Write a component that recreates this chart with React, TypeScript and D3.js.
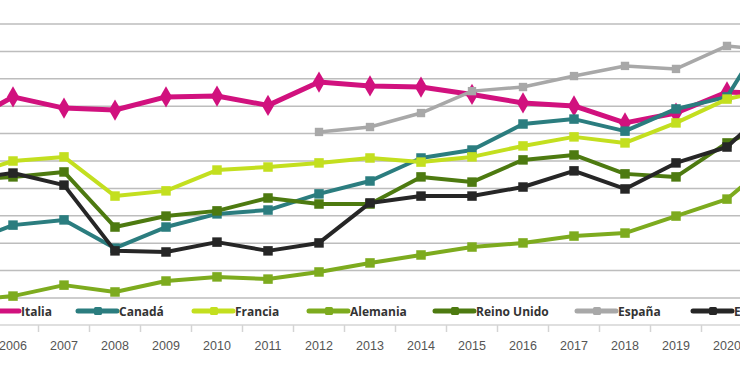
import React, { useEffect, useRef } from "react";
import * as d3 from "d3";

// years (2005 and 2021 sit just outside the visible crop)
const years = [2005, 2006, 2007, 2008, 2009, 2010, 2011, 2012, 2013, 2014, 2015, 2016, 2017, 2018, 2019, 2020, 2021];
const tickYears = [2006, 2007, 2008, 2009, 2010, 2011, 2012, 2013, 2014, 2015, 2016, 2017, 2018, 2019, 2020];

const italia = [63.1, 73.4, 69.3, 68.6, 73.4, 73.7, 70.3, 78.8, 77.4, 77.0, 74.3, 71.2, 70.1, 63.9, 67.5, 75.2, 74.5];
const canada = [19.3, 26.6, 28.5, 18.2, 25.9, 30.7, 32.1, 38.0, 42.7, 51.1, 54.0, 63.5, 65.3, 60.9, 69.0, 73.4, 103.3];
const francia = [44.2, 50.0, 51.5, 37.2, 39.1, 46.7, 47.8, 49.3, 51.1, 49.6, 51.5, 55.5, 58.8, 56.6, 63.9, 72.6, 76.6];
const alemania = [-1.1, 0.7, 4.7, 2.2, 6.2, 7.7, 6.9, 9.5, 12.8, 15.7, 18.6, 20.1, 22.6, 23.7, 29.9, 36.1, 51.8];
const reinoUnido = [43.1, 44.2, 46.0, 25.9, 29.9, 31.8, 36.5, 34.3, 34.3, 44.2, 42.3, 50.4, 52.2, 45.3, 44.2, 56.6, 65.0];
const espana = [null, null, null, null, null, null, null, 60.6, 62.4, 67.5, 75.5, 77.0, 81.0, 84.7, 83.6, 92.0, 90.0];
const eeuu = [43.1, 45.6, 41.2, 17.2, 16.8, 20.4, 17.2, 20.1, 34.7, 37.2, 37.2, 40.5, 46.4, 39.8, 49.3, 55.1, 72.3];

const seriesNames = ["Italia", "Canadá", "Francia", "Alemania", "Reino Unido", "España", "EE.UU."];
const seriesValues = [italia, canada, francia, alemania, reinoUnido, espana, eeuu];
const seriesColors = ["#d1117e", "#2b7d7f", "#c3df1f", "#7dab1e", "#4d7a10", "#a8a8a8", "#262626"];
const seriesWidths = [5, 4, 4, 4, 4, 3.5, 4];
const seriesMarkers = ["diamond", "square", "square", "square", "square", "square", "square"];

// where each legend sample line starts
const legendX = [-20, 78, 194, 309, 435, 577, 693];

const App = () => {
  const svgRef = useRef(null);

  useEffect(() => {
    drawChart();
  }, []);

  const drawChart = () => {
    const svg = d3.select(svgRef.current);
    svg.selectAll("*").remove();

    const width = 740;
    const height = 389;
    const plotTop = 24;
    const plotBottom = 298;
    const axisY = 325;

    const x = d3.scaleLinear().domain([2006, 2020]).range([13, 727]);
    const y = d3.scaleLinear().domain([0, 100]).range([plotBottom, plotTop]);

    svg.append("rect").attr("width", width).attr("height", height).attr("fill", "#fff");

    // gridlines
    svg
      .append("g")
      .selectAll("line")
      .data(y.ticks(10))
      .join("line")
      .attr("x1", 0)
      .attr("x2", width)
      .attr("y1", (d) => y(d))
      .attr("y2", (d) => y(d))
      .attr("stroke", "#bdbdbd")
      .attr("stroke-width", 1.5);

    // x axis line + tick marks between categories
    svg
      .append("line")
      .attr("x1", 0)
      .attr("x2", width)
      .attr("y1", axisY)
      .attr("y2", axisY)
      .attr("stroke", "#d4d4d4")
      .attr("stroke-width", 1.5);

    svg
      .append("g")
      .selectAll("line")
      .data(years)
      .join("line")
      .attr("x1", (d) => x(d + 0.5))
      .attr("x2", (d) => x(d + 0.5))
      .attr("y1", axisY)
      .attr("y2", axisY + 7)
      .attr("stroke", "#d4d4d4")
      .attr("stroke-width", 1.5);

    svg
      .append("g")
      .selectAll("text")
      .data(tickYears)
      .join("text")
      .attr("x", (d) => x(d))
      .attr("y", 350)
      .attr("text-anchor", "middle")
      .attr("font-family", "Liberation Sans, Arial, sans-serif")
      .attr("font-size", 12.5)
      .attr("fill", "#555")
      .text((d) => d);

    // series lines + markers
    seriesValues.forEach((vals, i) => {
      const pts = years
        .map((yr, j) => ({ yr, v: vals[j] }))
        .filter((p) => p.v !== null);

      const line = d3
        .line()
        .x((d) => x(d.yr))
        .y((d) => y(d.v));

      const g = svg.append("g");
      g.append("path")
        .datum(pts)
        .attr("fill", "none")
        .attr("stroke", seriesColors[i])
        .attr("stroke-width", seriesWidths[i])
        .attr("stroke-linejoin", "round")
        .attr("d", line);

      const marker =
        seriesMarkers[i] === "diamond"
          ? d3.symbol().type(d3.symbolDiamond).size(130)
          : d3.symbol().type(d3.symbolSquare).size(i === 5 ? 70 : 90);
      g.selectAll("path.m")
        .data(pts)
        .join("path")
        .attr("class", "m")
        .attr("transform", (d) => `translate(${x(d.yr)},${y(d.v)})`)
        .attr("d", marker)
        .attr("fill", seriesColors[i]);
    });

    // legend
    const legendY = 311;
    const lg = svg.append("g");
    seriesNames.forEach((name, i) => {
      const x0 = legendX[i];
      lg.append("line")
        .attr("x1", x0)
        .attr("x2", x0 + 39)
        .attr("y1", legendY)
        .attr("y2", legendY)
        .attr("stroke", seriesColors[i])
        .attr("stroke-width", 5)
        .attr("stroke-linecap", "round");
      if (seriesMarkers[i] === "square") {
        lg.append("rect")
          .attr("x", x0 + 16)
          .attr("y", legendY - 4)
          .attr("width", 8)
          .attr("height", 8)
          .attr("rx", 1.5)
          .attr("fill", seriesColors[i]);
      }
      lg.append("text")
        .attr("x", x0 + 41)
        .attr("y", legendY + 4.5)
        .attr("font-family", "Open Sans, sans-serif")
        .attr("font-weight", 700)
        .attr("font-size", 12)
        .attr("fill", "#333")
        .text(name);
    });
  };

  return (
    <svg
      ref={svgRef}
      width="740"
      height="389"
      style={{ position: "absolute", left: 0, top: 0, display: "block" }}
    ></svg>
  );
};

export default App;
